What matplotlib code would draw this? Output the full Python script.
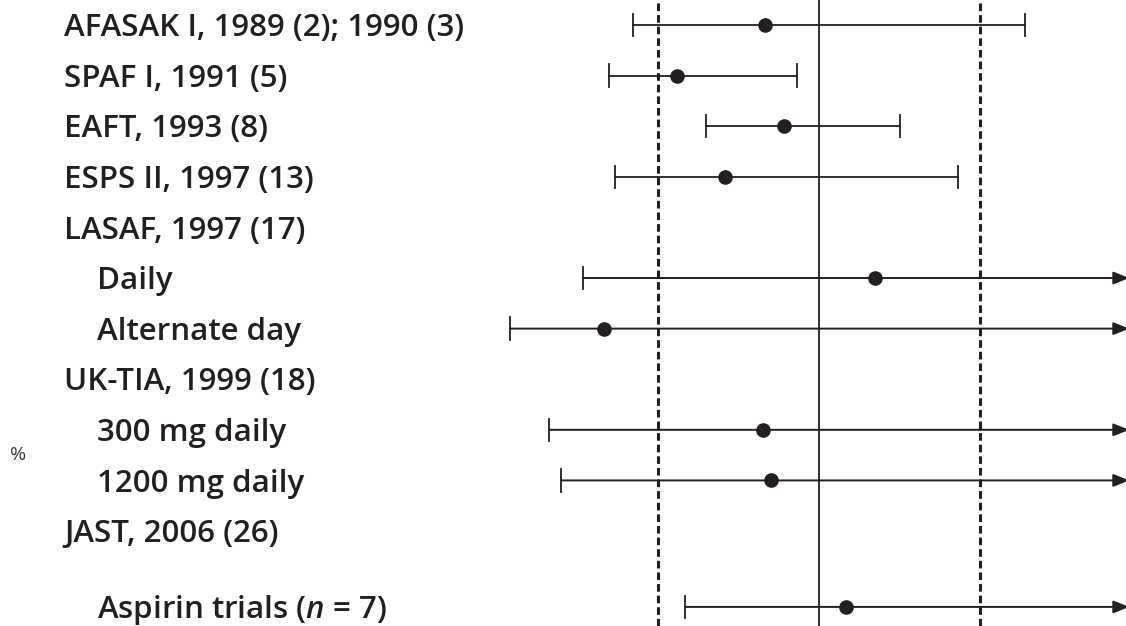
import numpy as np
import matplotlib
matplotlib.use("Agg")
import matplotlib.pyplot as plt
from matplotlib.transforms import blended_transform_factory

plt.rcParams['font.family'] = ['Open Sans', 'DejaVu Sans']
plt.rcParams['mathtext.fontset'] = 'custom'
plt.rcParams['mathtext.it'] = 'Open Sans:italic:semibold'
plt.rcParams['mathtext.rm'] = 'Open Sans:semibold'

# trial rows (top to bottom)
labels = ["AFASAK I, 1989 (2); 1990 (3)", "SPAF I, 1991 (5)", "EAFT, 1993 (8)",
          "ESPS II, 1997 (13)", "LASAF, 1997 (17)", "Daily", "Alternate day",
          "UK-TIA, 1999 (18)", "300 mg daily", "1200 mg daily", "JAST, 2006 (26)",
          "Aspirin trials ($n$ = 7)"]
indent = [0, 0, 0, 0, 0, 1, 1, 0, 1, 1, 0, 1]
rows = [0, 1, 2, 3, 4, 5, 6, 7, 8, 9, 10, 11.5]

# estimates and 95% CI (inf = runs off the scale)
est = [-33.5, -88.2, -21.7, -58.4, np.nan, 34.8, -133.5, np.nan, -34.8, -29.8, np.nan, 16.8]
lo = [-115.5, -130.4, -70.2, -126.7, np.nan, -146.6, -191.9, np.nan, -167.7, -160.2, np.nan, -83.2]
hi = [128.0, -13.7, 50.3, 86.3, np.nan, np.inf, np.inf, np.nan, np.inf, np.inf, np.nan, np.inf]

ref_lines = [-100, 0, 100]

ink = '#231f20'
xmin, xmax = -508.7, 190.7

fig = plt.figure(figsize=(11.26, 6.26), dpi=100)
ax = fig.add_axes([0, 0, 1, 1])
ax.set_xlim(xmin, xmax)
ax.set_ylim(11.877, -0.494)
ax.axis('off')

ax.axvline(ref_lines[0], color=ink, lw=2.2, ls=(0, (2.5, 1.3)))
ax.axvline(ref_lines[1], color=ink, lw=1.3)
ax.axvline(ref_lines[2], color=ink, lw=2.2, ls=(0, (2.5, 1.3)))

for y, e, l, h in zip(rows, est, lo, hi):
    if np.isnan(e):
        continue
    ax.plot([l, l], [y - 0.22, y + 0.22], color=ink, lw=1.3)
    if np.isinf(h):
        ax.annotate('', xy=(xmax + 2, y), xytext=(l, y), annotation_clip=False,
                    arrowprops=dict(arrowstyle='-|>,head_length=0.8,head_width=0.32',
                                    color=ink, lw=1.4, shrinkA=0, shrinkB=0,
                                    mutation_scale=12))
    else:
        ax.plot([l, h], [y, y], color=ink, lw=1.3)
        ax.plot([h, h], [y - 0.22, y + 0.22], color=ink, lw=1.3)
    ax.plot(e, y, 'o', color=ink, ms=9.5, zorder=5)

trans = blended_transform_factory(ax.transAxes, ax.transData)
for lab, ind, y in zip(labels, indent, rows):
    x = 97 / 1126 if ind else 64 / 1126
    ax.text(x, y + 0.22, lab, transform=trans, fontsize=22.5, fontweight='semibold',
            color=ink, va='baseline', ha='left')

ax.text(10 / 1126, 8.5, '%', transform=trans, fontsize=14, color='#3a3a3a',
        va='center', ha='left')

fig.savefig('out.png', dpi=100)
